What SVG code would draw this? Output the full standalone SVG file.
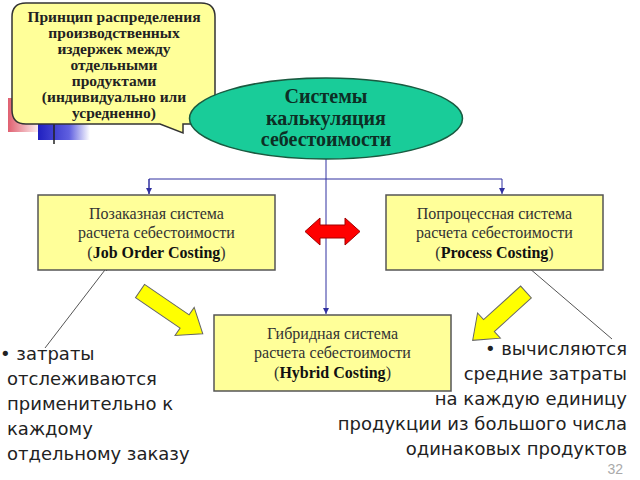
<svg xmlns="http://www.w3.org/2000/svg" width="640" height="480" viewBox="0 0 640 480">
<defs>
<linearGradient id="gl" x1="0" y1="0" x2="1" y2="0"><stop offset="0" stop-color="#333"/><stop offset="0.6" stop-color="#bbb"/><stop offset="1" stop-color="#fff"/></linearGradient>
<linearGradient id="gb" x1="0" y1="0" x2="1" y2="0"><stop offset="0" stop-color="#2020c0"/><stop offset="0.6" stop-color="#6060e0"/><stop offset="1" stop-color="#fff"/></linearGradient>
<linearGradient id="gr" x1="0" y1="0" x2="1" y2="0"><stop offset="0" stop-color="#e06070"/><stop offset="1" stop-color="#fff"/></linearGradient>
<marker id="ah" viewBox="0 0 6 6" refX="6" refY="3" markerWidth="6" markerHeight="6" orient="auto" markerUnits="userSpaceOnUse"><path d="M0,0 L6,3 L0,6 z" fill="#3030a0"/></marker>
<marker id="ag" viewBox="0 0 6 6" refX="6" refY="3" markerWidth="5" markerHeight="5" orient="auto" markerUnits="userSpaceOnUse"><path d="M0,0 L6,3 L0,6 z" fill="#444"/></marker>
</defs>
<style>
.box{fill:#ffff99;stroke:#555;stroke-width:1.5}
.bt{font-family:"Liberation Serif",serif;font-size:16px;fill:#333;text-anchor:middle}
.b{font-weight:bold;fill:#111}
.ct{font-family:"Liberation Serif",serif;font-size:15.5px;font-weight:bold;fill:#222;text-anchor:middle}
.conn{stroke:#3030a0;stroke-width:1;fill:none}
.lead{stroke:#555;stroke-width:1;fill:none}
.note{font-family:"DejaVu Sans",sans-serif;font-size:18px;fill:#222}
.ya{fill:#ffff00;stroke:#666;stroke-width:1}
</style>
<rect width="640" height="480" fill="#fff"/>
<rect x="8" y="98" width="34" height="34" fill="url(#gr)"/>
<rect x="38" y="118" width="52" height="22" fill="url(#gb)"/>
<line x1="54" y1="118" x2="54" y2="144" stroke="#222" stroke-width="1.5"/>
<line x1="150" y1="125" x2="600" y2="125" stroke="url(#gl)" stroke-width="3"/>
<g id="callout">
<path d="M26,3 H201 Q215,3 215,17 V110 Q215,124 201,124 H183 V133 L160,124 H26 Q12,124 12,110 V17 Q12,3 26,3 Z" fill="#ffff99" stroke="#333" stroke-width="1.5"/>
<text class="ct" x="114" y="22">Принцип распределения</text>
<text class="ct" x="114" y="38">производственных</text>
<text class="ct" x="114" y="54">издержек между</text>
<text class="ct" x="114" y="70">отдельными</text>
<text class="ct" x="114" y="86">продуктами</text>
<text class="ct" x="114" y="102">(индивидуально или</text>
<text class="ct" x="114" y="118">усредненно)</text>
</g>
<g id="connectors">
<line class="conn" x1="326" y1="159" x2="326" y2="314" marker-end="url(#ah)"/>
<polyline class="conn" points="149,194 149,179 502,179 502,194" marker-end="url(#ah)"/>
<line class="conn" x1="149" y1="179" x2="149" y2="194" marker-end="url(#ah)"/>
<line class="lead" x1="45" y1="348" x2="108" y2="266" marker-end="url(#ag)"/>
<line class="lead" x1="612" y1="339" x2="522" y2="262" marker-end="url(#ag)"/>
</g>
<g id="systems">
<ellipse cx="326" cy="118.5" rx="136.5" ry="40.5" fill="#19cc99" stroke="#1a5a40" stroke-width="1.5"/>
<text font-family="Liberation Serif,serif" font-size="20" font-weight="bold" fill="#0d2e25" text-anchor="middle"><tspan x="326" y="103">Системы</tspan><tspan x="326" y="124.5">калькуляция</tspan><tspan x="326" y="146">себестоимости</tspan></text>
</g>
<g id="job">
<rect class="box" x="38" y="195" width="237" height="75"/>
<text class="bt" x="156.5" y="219">Позаказная система</text>
<text class="bt" x="156.5" y="238">расчета себестоимости</text>
<text class="bt" x="156.5" y="258">(<tspan class="b">Job Order Costing</tspan>)</text>
</g>
<g id="process">
<rect class="box" x="386" y="195" width="217" height="75"/>
<text class="bt" x="494.5" y="219">Попроцессная система</text>
<text class="bt" x="494.5" y="238">расчета себестоимости</text>
<text class="bt" x="494.5" y="258">(<tspan class="b">Process Costing</tspan>)</text>
</g>
<g id="hybrid">
<rect class="box" x="214" y="315" width="237" height="76"/>
<text class="bt" x="332.5" y="339">Гибридная система</text>
<text class="bt" x="332.5" y="358">расчета себестоимости</text>
<text class="bt" x="332.5" y="378">(<tspan class="b">Hybrid Costing</tspan>)</text>
</g>
<g id="redarrow">
<polygon points="305,231.5 320,218 320,225 345,225 345,218 360,231.5 345,245 345,238 320,238 320,245" fill="#ff0000" stroke="#a00000" stroke-width="1"/>
</g>
<g id="yellow1" transform="translate(140,291) rotate(34.3)">
<polygon class="ya" points="0,-8 54,-8 54,-17 76,0 54,17 54,8 0,8"/>
</g>
<g id="yellow2" transform="translate(526,292) rotate(137.8)">
<polygon class="ya" points="0,-8 50,-8 50,-17 72,0 50,17 50,8 0,8"/>
</g>
<g id="note-left">
<text class="note" x="0" y="360">• затраты</text>
<text class="note" x="7" y="385">отслеживаются</text>
<text class="note" x="7" y="410">применительно к</text>
<text class="note" x="7" y="435">каждому</text>
<text class="note" x="7" y="460">отдельному заказу</text>
</g>
<g id="note-right" text-anchor="end">
<text class="note" x="627" y="355">• вычисляются</text>
<text class="note" x="627" y="380">средние затраты</text>
<text class="note" x="627" y="405">на каждую единицу</text>
<text class="note" x="627" y="430">продукции из большого числа</text>
<text class="note" x="627" y="455">одинаковых продуктов</text>
</g>
<text x="623" y="474" font-family="Liberation Sans,sans-serif" font-size="14" fill="#aaa" text-anchor="end">32</text>
</svg>
